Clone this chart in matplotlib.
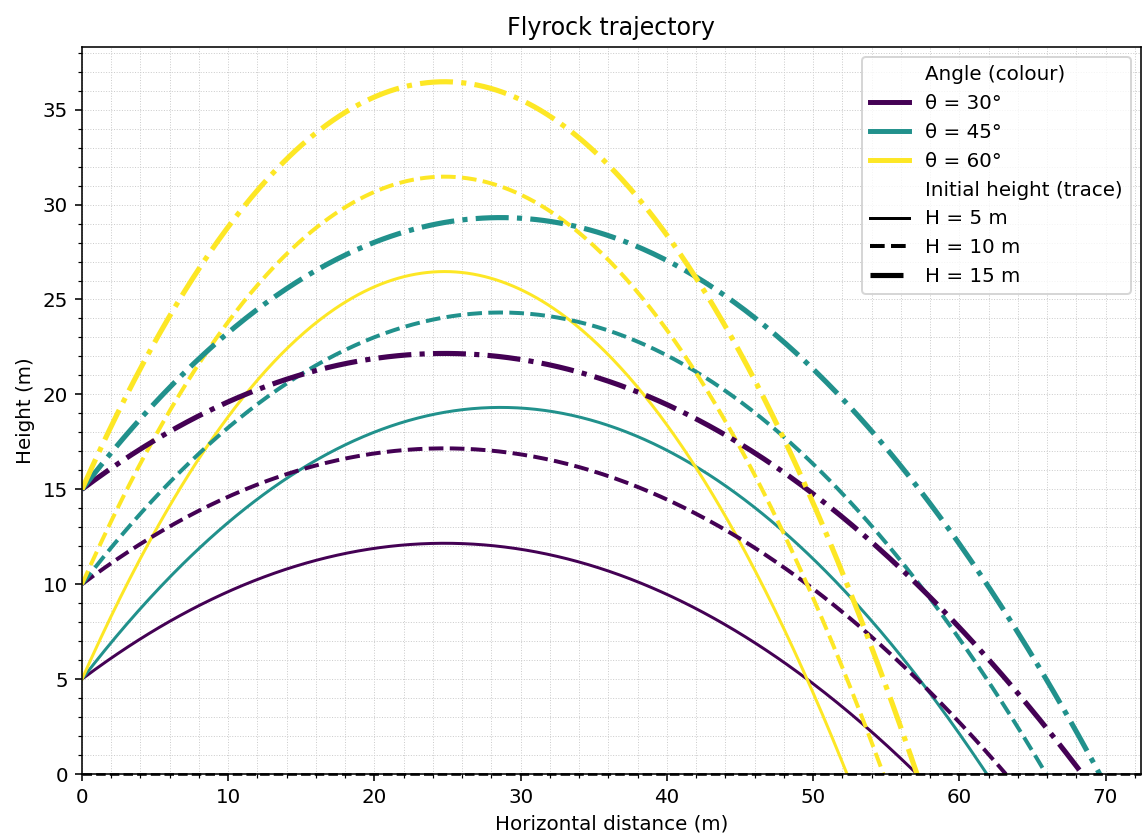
import numpy as np
import matplotlib
matplotlib.use("Agg")
import matplotlib.pyplot as plt
from matplotlib.lines import Line2D

# launch parameters
angles = [30, 45, 60]            # degrees
heights = [5, 10, 15]            # m
v0 = 23.7                        # launch speed, m/s
g = 9.81

angle_colors = ["#440154", "#21918c", "#fde725"]
height_styles = ["-", "--", "-."]
height_widths = [1.5, 2.0, 2.6]

DPI = 142.75
fig = plt.figure(figsize=(1142 / DPI, 834 / DPI), dpi=DPI)
ax = fig.add_axes([0.0718, 0.0719, 0.927, 0.8717])

for H, ls, lw in zip(heights, height_styles, height_widths):
    for th, col in zip(angles, angle_colors):
        t = np.radians(th)
        vx, vy = v0 * np.cos(t), v0 * np.sin(t)
        t_land = (vy + np.sqrt(vy**2 + 2 * g * H)) / g
        tt = np.linspace(0, t_land, 400)
        ax.plot(vx * tt, H + vy * tt - 0.5 * g * tt**2, color=col, ls=ls, lw=lw)

# ground level
ax.axhline(0, color="black", ls="--", lw=1.3, zorder=3, clip_on=False)

ax.set_xlim(0, 72.4)
ax.set_ylim(0, 38.3)
ax.minorticks_on()
ax.grid(which="both", ls=":", lw=0.5, color="#cccccc")
ax.set_axisbelow(True)
ax.set_title("Flyrock trajectory")
ax.set_xlabel("Horizontal distance (m)")
ax.set_ylabel("Height (m)")

handles, labels = [Line2D([], [], color="none")], ["Angle (colour)"]
for th, col in zip(angles, angle_colors):
    handles.append(Line2D([], [], color=col, lw=2.5))
    labels.append(f"θ = {th}°")
handles.append(Line2D([], [], color="none"))
labels.append("Initial height (trace)")
for H, ls, lw in zip(heights, height_styles, height_widths):
    handles.append(Line2D([], [], color="black", ls=ls, lw=lw))
    labels.append(f"H = {H} m")
ax.legend(handles, labels, loc="upper right")

fig.savefig("out.png", dpi=DPI)
